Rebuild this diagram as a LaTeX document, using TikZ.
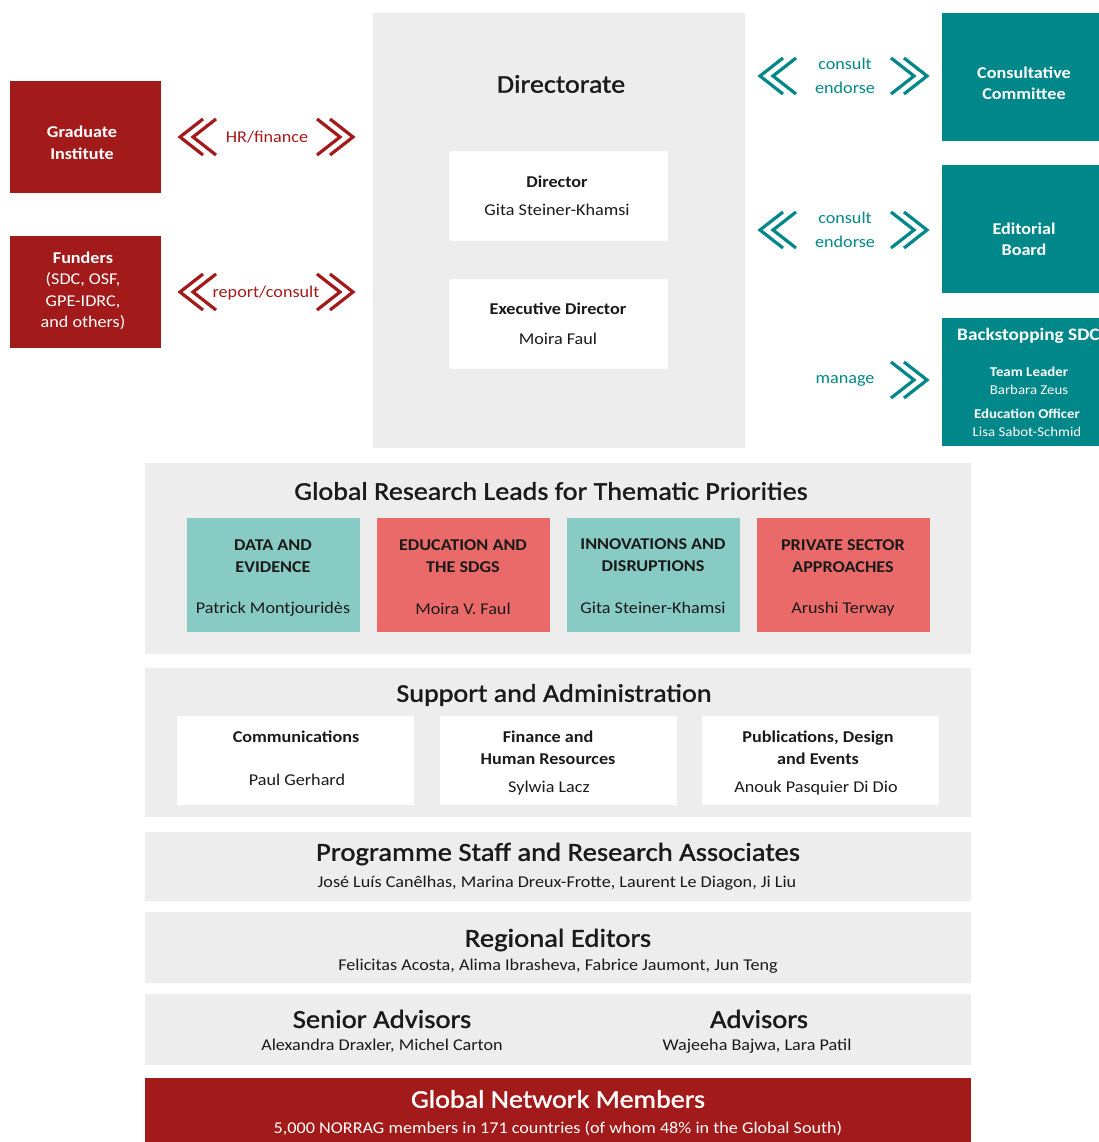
\documentclass[tikz,border=0pt]{standalone}
\usepackage{fontspec}
\setmainfont{Carlito}[FakeStretch=1.1]
\usetikzlibrary{positioning}
\definecolor{rosso}{HTML}{A31A1A}
\definecolor{ottanio}{HTML}{00878A}
\definecolor{acqua}{HTML}{88CBC5}
\definecolor{salmone}{HTML}{EA6A6A}
\definecolor{grigio}{HTML}{EDEDED}
\definecolor{nero}{HTML}{1A1A1A}
\newcommand{\semib}{\addfontfeature{FakeBold=1.3}}

\tikzset{
	panel/.style={fill=grigio, inner sep=0pt, anchor=north west},
	blocco/.style={fill=#1, inner sep=0pt, anchor=north west},
	titolo/.style={inner sep=0pt, text=nero, font=\fontsize{25.5}{28}\selectfont\semib},
	testo/.style={inner sep=0pt, text=nero, align=center, font=\fontsize{16.5}{22}\selectfont},
	testob/.style={testo, font=\fontsize{16.5}{22}\selectfont\bfseries},
	bianco/.style={inner sep=0pt, align=center, text=white, font=\fontsize{16.5}{21.5}\selectfont},
	chevsx/.pic={\draw[pic actions, line width=3.2pt] (23,-18) -- (0,0) -- (23,18) (36,-18) -- (13,0) -- (36,18);},
	chevdx/.pic={\draw[pic actions, line width=3.2pt] (-23,-18) -- (0,0) -- (-23,18) (-36,-18) -- (-13,0) -- (-36,18);}
}

\begin{document}
\begin{tikzpicture}[x=1pt, y=-1pt]
	\useasboundingbox (0,0) rectangle (1099,1142);

	% directorate
	\node[panel, minimum width=372pt, minimum height=435pt] (dir) at (373,13) {};
	\node[titolo] (dirt) at (561,84) {Directorate};
	\node[blocco=white, minimum width=219pt, minimum height=90pt] (director) at (449,151) {};
	\node[testob] (directort) at (557,182) {Director};
	\node[testo] (directorn) at (557,210) {Gita Steiner-Khamsi};
	\node[blocco=white, minimum width=219pt, minimum height=90pt] (exec) at (449,279) {};
	\node[testob] (exect) at (558,309) {Executive Director};
	\node[testo] (execn) at (558,339) {Moira Faul};

	% left side
	\node[blocco=rosso, minimum width=151pt, minimum height=112pt] (gi) at (10,81) {};
	\node[bianco, font=\fontsize{16.5}{22}\selectfont\bfseries] (git) at (82,143) {Graduate\\Institute};
	\node[blocco=rosso, minimum width=151pt, minimum height=112pt] (fund) at (10,236) {};
	\node[bianco] (fundt) at (83,291) {\textbf{Funders}\\(SDC, OSF,\\GPE-IDRC,\\and others)};

	\pic[draw=rosso] at (180,137) {chevsx};
	\pic[draw=rosso] at (353,137) {chevdx};
	\node[testo, text=rosso] (hr) at (267,137) {HR/finance};
	\pic[draw=rosso] at (180,292) {chevsx};
	\pic[draw=rosso] at (353,292) {chevdx};
	\node[testo, text=rosso] (rep) at (266,293) {report/consult};

	% right side
	\node[blocco=ottanio, minimum width=157pt, minimum height=128pt] (cc) at (942,13) {};
	\node[bianco, font=\fontsize{16.5}{21}\selectfont\bfseries] (cct) at (1024,83) {Consultative\\Committee};
	\node[blocco=ottanio, minimum width=157pt, minimum height=128pt] (eb) at (942,165) {};
	\node[bianco, font=\fontsize{16.5}{21}\selectfont\bfseries] (ebt) at (1024,239) {Editorial\\Board};
	\node[blocco=ottanio, minimum width=157pt, minimum height=128pt] (bs) at (942,318) {};
	\node[bianco, anchor=west, font=\fontsize{17.5}{20}\selectfont\bfseries] (bst) at (957,336) {Backstopping SDC};
	\node[bianco, font=\fontsize{13.5}{18}\selectfont] (bstl) at (1029,381) {\textbf{Team Leader}\\Barbara Zeus};
	\node[bianco, font=\fontsize{13.5}{18}\selectfont] (bseo) at (1027,423) {\textbf{Education Officer}\\Lisa Sabot-Schmid};

	\pic[draw=ottanio] at (760,76) {chevsx};
	\pic[draw=ottanio] at (927,76) {chevdx};
	\node[testo, text=ottanio, font=\fontsize{16.5}{24}\selectfont] (ce1) at (845,76) {consult\\endorse};
	\pic[draw=ottanio] at (760,230) {chevsx};
	\pic[draw=ottanio] at (927,230) {chevdx};
	\node[testo, text=ottanio, font=\fontsize{16.5}{24}\selectfont] (ce2) at (845,230) {consult\\endorse};
	\pic[draw=ottanio] at (927,380) {chevdx};
	\node[testo, text=ottanio] (man) at (845,381) {manage};

	% thematic priorities
	\node[panel, minimum width=826pt, minimum height=191pt] (grl) at (145,463) {};
	\node[titolo] (grlt) at (551,491) {Global Research Leads for Thematic Priorities};
	\node[blocco=acqua, minimum width=173pt, minimum height=114pt] (t1) at (187,518) {};
	\node[blocco=salmone, minimum width=173pt, minimum height=114pt] (t2) at (377,518) {};
	\node[blocco=acqua, minimum width=173pt, minimum height=114pt] (t3) at (567,518) {};
	\node[blocco=salmone, minimum width=173pt, minimum height=114pt] (t4) at (757,518) {};
	\node[testob] (t1t) at (273,556) {DATA AND\\EVIDENCE};
	\node[testo] (t1n) at (273,609) {Patrick Montjouridès};
	\node[testob] (t2t) at (463,556) {EDUCATION AND\\THE SDGS};
	\node[testo] (t2n) at (463,609) {Moira V. Faul};
	\node[testob] (t3t) at (653,555) {INNOVATIONS AND\\DISRUPTIONS};
	\node[testo] (t3n) at (653,608) {Gita Steiner-Khamsi};
	\node[testob] (t4t) at (843,556) {PRIVATE SECTOR\\APPROACHES};
	\node[testo] (t4n) at (843,609) {Arushi Terway};

	% support and administration
	\node[panel, minimum width=826pt, minimum height=149pt] (sa) at (145,668) {};
	\node[titolo] (sat) at (554,695) {Support and Administration};
	\node[blocco=white, minimum width=237pt, minimum height=89pt] (s1) at (177,716) {};
	\node[blocco=white, minimum width=237pt, minimum height=89pt] (s2) at (440,716) {};
	\node[blocco=white, minimum width=237pt, minimum height=89pt] (s3) at (702,716) {};
	\node[testob] (s1t) at (296,737) {Communications};
	\node[testo] (s1n) at (297,780) {Paul Gerhard};
	\node[testob] (s2t) at (548,748) {Finance and\\Human Resources};
	\node[testo] (s2n) at (549,788) {Sylwia Lacz};
	\node[testob] (s3t) at (818,748) {Publications, Design\\and Events};
	\node[testo] (s3n) at (816,788) {Anouk Pasquier Di Dio};

	% staff, editors, advisors
	\node[panel, minimum width=826pt, minimum height=69pt] (ps) at (145,832) {};
	\node[titolo, font=\fontsize{26}{30}\selectfont\semib] (pst) at (558,854) {Programme Staff and Research Associates};
	\node[testo] (psn) at (557,883) {José Luís Canêlhas, Marina Dreux-Frotte, Laurent Le Diagon, Ji Liu};
	\node[panel, minimum width=826pt, minimum height=71pt] (re) at (145,912) {};
	\node[titolo, font=\fontsize{26}{30}\selectfont\semib] (ret) at (558,940) {Regional Editors};
	\node[testo] (ren) at (558,966) {Felicitas Acosta, Alima Ibrasheva, Fabrice Jaumont, Jun Teng};
	\node[panel, minimum width=826pt, minimum height=71pt] (adv) at (145,994) {};
	\node[titolo, font=\fontsize{26}{30}\selectfont\semib] (sadvt) at (382,1019) {Senior Advisors};
	\node[testo] (sadvn) at (382,1046) {Alexandra Draxler, Michel Carton};
	\node[titolo, font=\fontsize{26}{30}\selectfont\semib] (advt) at (759,1019) {Advisors};
	\node[testo] (advn) at (757,1046) {Wajeeha Bajwa, Lara Patil};

	% network
	\node[blocco=rosso, minimum width=826pt, minimum height=64pt] (gnm) at (145,1078) {};
	\node[bianco, font=\fontsize{25.5}{30}\selectfont\semib] (gnmt) at (558,1099) {Global Network Members};
	\node[bianco] (gnmn) at (558,1129) {5,000 NORRAG members in 171 countries (of whom 48\% in the Global South)};
\end{tikzpicture}
\end{document}
